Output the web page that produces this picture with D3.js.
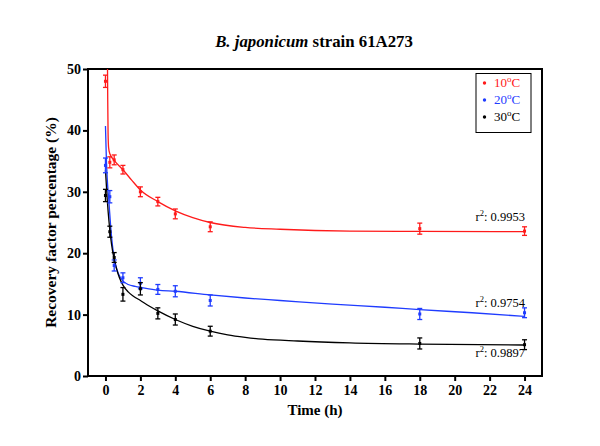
<!DOCTYPE html>
<html><head><meta charset="utf-8">
<script src="https://cdn.jsdelivr.net/npm/d3@7"></script>
<style>
html,body{margin:0;padding:0;background:#fff;}
text{font-family:"Liberation Serif","Times New Roman",serif;}
</style></head>
<body>
<svg id="chart" width="600" height="446"></svg>
<script>
// ---- data ----
const times = [0, 0.25, 0.5, 1, 2, 3, 4, 6, 18, 24];
const red10 = [48.0, 34.8, 35.2, 33.6, 30.0, 28.4, 26.4, 24.3, 24.0, 23.6];
const red10Err = [1.0, 0.9, 0.8, 0.7, 0.8, 0.7, 0.8, 0.8, 0.9, 0.7];
const blue20 = [34.3, 29.2, 18.0, 16.0, 15.1, 14.1, 13.8, 12.3, 10.1, 10.3];
const blue20Err = [1.2, 1.0, 0.9, 0.8, 0.9, 0.8, 0.9, 0.9, 0.9, 0.8];
const black30 = [29.4, 23.5, 19.3, 13.3, 14.2, 10.2, 9.2, 7.3, 5.3, 5.1];
const black30Err = [1.0, 0.9, 0.8, 1.1, 1.0, 0.9, 0.9, 0.8, 0.9, 0.8];

// fitted curves
const fitRedT = [0.09, 0.11, 0.13, 0.15, 0.18, 0.25, 0.5, 1, 1.5, 2, 3, 4, 5, 6, 8, 10, 12, 14, 18, 24];
const fitRedY = [62, 53, 45, 39.5, 37.2, 36.2, 35.1, 33.6, 31.9, 30.3, 28.4, 26.9, 25.8, 25.0, 24.2, 23.9, 23.7, 23.6, 23.55, 23.5];
const fitBlueT = [0, 0.05, 0.1, 0.2, 0.3, 0.4, 0.5, 0.6, 0.75, 1.0, 1.3, 1.7, 2.1, 3, 4, 6, 8, 10, 13, 16, 18, 21, 24];
const fitBlueY = [40.7, 35.5, 32.2, 28.3, 24.3, 21.3, 19.3, 17.9, 16.6, 15.5, 14.9, 14.6, 14.4, 14.0, 13.8, 13.2, 12.7, 12.3, 11.7, 11.2, 10.8, 10.3, 9.7];
const fitBlackT = [0, 0.1, 0.2, 0.3, 0.4, 0.5, 0.65, 0.8, 1.0, 1.3, 1.6, 2, 2.5, 3, 4, 5, 6, 7, 8, 9, 11, 14, 18, 24];
const fitBlackY = [33.5, 28.8, 25.2, 22.5, 20.5, 19.0, 17.3, 16.0, 14.8, 13.7, 13.0, 12.3, 11.4, 10.6, 9.2, 8.1, 7.3, 6.7, 6.3, 6.0, 5.7, 5.4, 5.2, 5.05];

const legendLabels = ["10", "20", "30"];
const r2Labels = ["0.9953", "0.9754", "0.9897"];
const xTicks = [0, 2, 4, 6, 8, 10, 12, 14, 16, 18, 20, 22, 24];
const yTicks = [0, 10, 20, 30, 40, 50];

const colors = ["#ff1a1a", "#1f3cff", "#000000"];
const series = [
  {vals: red10, err: red10Err, ft: fitRedT, fy: fitRedY, r2: r2Labels[0], r2y: 25.2},
  {vals: blue20, err: blue20Err, ft: fitBlueT, fy: fitBlueY, r2: r2Labels[1], r2y: 11.2},
  {vals: black30, err: black30Err, ft: fitBlackT, fy: fitBlackY, r2: r2Labels[2], r2y: 3.1}
];

// ---- layout ----
const svg = d3.select("#chart");
const L = 88, R = 542, T = 69, B = 376;
const x = d3.scaleLinear().domain([-1, 25]).range([L, R]);
const y = d3.scaleLinear().domain([0, 50]).range([B, T]);

svg.append("defs").append("clipPath").attr("id", "clip")
  .append("rect").attr("x", L).attr("y", T).attr("width", R - L).attr("height", B - T);

// title
const title = svg.append("text").attr("x", 314).attr("y", 47).attr("text-anchor", "middle")
  .style("font-size", "16.8px").style("font-weight", "bold");
title.append("tspan").style("font-style", "italic").text("B. japonicum");
title.append("tspan").text(" strain 61A273");

// axes
const xAxis = svg.append("g").attr("transform", `translate(0,${B})`)
  .call(d3.axisBottom(x).tickValues(xTicks).tickSize(5).tickPadding(4).tickFormat(d3.format("d")));
const yAxis = svg.append("g").attr("transform", `translate(${L},0)`)
  .call(d3.axisLeft(y).tickValues(yTicks).tickSize(5).tickPadding(2).tickFormat(d3.format("d")));
[xAxis, yAxis].forEach(g => {
  g.select(".domain").remove();
  g.selectAll(".tick line").attr("stroke", "#000").attr("stroke-width", 2);
  g.selectAll(".tick text").style("font-size", "14px").style("font-weight", "bold")
    .style("font-family", "'Liberation Serif', serif").attr("fill", "#000");
});

// frame
svg.append("rect").attr("x", L).attr("y", T).attr("width", R - L).attr("height", B - T)
  .attr("fill", "none").attr("stroke", "#000").attr("stroke-width", 2);

// axis labels
svg.append("text").attr("x", 315).attr("y", 415).attr("text-anchor", "middle")
  .style("font-size", "15px").style("font-weight", "bold").text("Time (h)");
svg.append("text").attr("transform", `translate(56,${(T + B) / 2}) rotate(-90)`)
  .attr("text-anchor", "middle").style("font-size", "15.5px").style("font-weight", "bold")
  .text("Recovery factor percentage (%)");

const line = d3.line().x(d => x(d[0])).y(d => y(d[1])).curve(d3.curveMonotoneX);
const plot = svg.append("g").attr("clip-path", "url(#clip)");

series.forEach((s, i) => {
  const c = colors[i];
  plot.append("path").datum(s.ft.map((t, k) => [t, s.fy[k]]))
    .attr("d", line).attr("fill", "none").attr("stroke", c).attr("stroke-width", 1.3);
  const g = svg.append("g");
  times.forEach((t, k) => {
    const cx = x(t), v = s.vals[k], e = s.err[k];
    g.append("line").attr("x1", cx).attr("x2", cx).attr("y1", y(v - e)).attr("y2", y(v + e))
      .attr("stroke", c).attr("stroke-width", 1.3);
    [v - e, v + e].forEach(w => g.append("line").attr("x1", cx - 2.5).attr("x2", cx + 2.5)
      .attr("y1", y(w)).attr("y2", y(w)).attr("stroke", c).attr("stroke-width", 1.3));
    g.append("rect").attr("x", cx - 1.5).attr("y", y(v) - 1.5).attr("width", 3).attr("height", 3).attr("fill", c);
  });
  // r2 label
  const lab = svg.append("text").attr("x", 525).attr("y", y(s.r2y)).attr("text-anchor", "end")
    .style("font-size", "12.5px").attr("fill", "#000");
  lab.append("tspan").text("r");
  lab.append("tspan").attr("dy", -5).style("font-size", "8.5px").text("2");
  lab.append("tspan").attr("dy", 5).text(": " + s.r2);
});

// legend
const lg = svg.append("g");
lg.append("rect").attr("x", 476).attr("y", 73.5).attr("width", 55).attr("height", 59)
  .attr("fill", "#fff").attr("stroke", "#000").attr("stroke-width", 1);
legendLabels.forEach((l, i) => {
  const yy = 87 + i * 17;
  lg.append("circle").attr("cx", 484.5).attr("cy", yy - 4).attr("r", 1.7).attr("fill", colors[i]);
  const t = lg.append("text").attr("x", 494).attr("y", yy).style("font-size", "13px").attr("fill", colors[i]);
  t.append("tspan").text(l);
  t.append("tspan").attr("dy", -5).style("font-size", "9px").text("o");
  t.append("tspan").attr("dy", 5).text("C");
});
</script>
</body></html>
